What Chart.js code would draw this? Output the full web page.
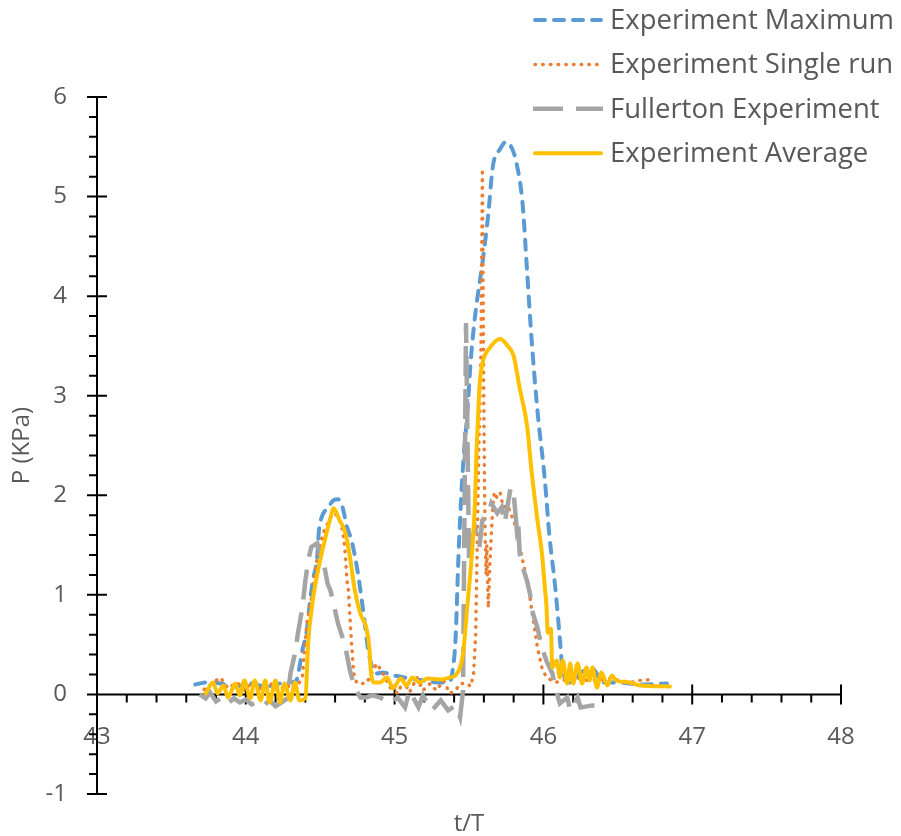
<!DOCTYPE html>
<html>
<head>
<meta charset="utf-8">
<script src="https://cdn.jsdelivr.net/npm/chart.js@4.4.1/dist/chart.umd.min.js"></script>
<style>
  html, body { margin: 0; padding: 0; background: #fff; }
</style>
</head>
<body>
<canvas id="grafico" width="901" height="836"></canvas>
<script>
// Datos (t/T, P en KPa)
const maxT = [43.66, 43.74, 43.83, 43.93, 44.03, 44.13, 44.23, 44.30, 44.34, 44.36, 44.38, 44.41, 44.43, 44.45, 44.48, 44.49, 44.51, 44.55, 44.59, 44.62, 44.65, 44.68, 44.71, 44.75, 44.78, 44.80, 44.82, 44.85, 44.88, 44.92, 45.00, 45.10, 45.20, 45.30, 45.37, 45.39, 45.41, 45.43, 45.46, 45.49, 45.51, 45.54, 45.59, 45.63, 45.66, 45.71, 45.75, 45.79, 45.82, 45.86, 45.89, 45.92, 45.96, 46.01, 46.04, 46.08, 46.11, 46.13, 46.18, 46.25, 46.33, 46.40, 46.51, 46.65, 46.83];
const maxP = [0.10, 0.12, 0.11, 0.08, 0.11, 0.08, 0.11, 0.12, 0.14, 0.27, 0.44, 0.64, 0.91, 1.14, 1.38, 1.62, 1.78, 1.87, 1.95, 1.96, 1.88, 1.68, 1.55, 1.25, 0.94, 0.71, 0.47, 0.27, 0.21, 0.22, 0.19, 0.16, 0.14, 0.12, 0.13, 0.24, 0.57, 1.42, 2.30, 2.85, 3.32, 3.79, 4.33, 4.83, 5.30, 5.48, 5.55, 5.48, 5.33, 4.93, 4.26, 3.58, 2.85, 2.15, 1.60, 1.07, 0.57, 0.24, 0.12, 0.22, 0.26, 0.12, 0.12, 0.10, 0.11];

const singleT = [43.72, 43.77, 43.83, 43.88, 43.94, 43.99, 44.05, 44.10, 44.16, 44.22, 44.27, 44.32, 44.36, 44.38, 44.39, 44.41, 44.45, 44.48, 44.52, 44.57, 44.60, 44.64, 44.66, 44.67, 44.68, 44.69, 44.70, 44.71, 44.72, 44.73, 44.75, 44.81, 44.88, 44.92, 44.97, 45.02, 45.06, 45.10, 45.15, 45.19, 45.24, 45.28, 45.33, 45.37, 45.41, 45.44, 45.49, 45.51, 45.53, 45.545, 45.555, 45.565, 45.58, 45.59, 45.595, 45.60, 45.605, 45.61, 45.615, 45.62, 45.625, 45.63, 45.64, 45.66, 45.67, 45.69, 45.71, 45.73, 45.76, 45.81, 45.86, 45.90, 45.92, 45.94, 45.96, 45.99, 46.02, 46.08, 46.20, 46.30, 46.45, 46.58, 46.65, 46.73];
const singleP = [0.05, 0.11, 0.17, 0.06, 0.12, 0.04, 0.13, 0.05, 0.12, 0.03, 0.10, 0.05, 0.12, 0.17, 0.37, 0.71, 1.04, 1.38, 1.62, 1.78, 1.82, 1.72, 1.55, 1.38, 1.14, 1.04, 0.77, 0.54, 0.31, 0.16, 0.11, 0.11, 0.31, 0.22, 0.07, 0.01, 0.14, 0.02, 0.17, 0.04, 0.11, 0.04, 0.14, 0.01, 0.04, 0.11, 0.11, 0.08, 0.19, 0.60, 1.50, 2.40, 3.40, 5.28, 4.00, 2.80, 2.00, 1.50, 1.20, 1.50, 1.10, 0.87, 1.30, 1.90, 2.03, 1.97, 2.02, 1.88, 1.90, 1.70, 1.35, 1.08, 0.87, 0.67, 0.47, 0.27, 0.17, 0.12, 0.17, 0.14, 0.16, 0.12, 0.14, 0.15];

const fullT = [43.69, 43.73, 43.76, 43.80, 43.84, 43.88, 43.92, 43.96, 44.00, 44.04, 44.08, 44.12, 44.16, 44.20, 44.24, 44.28, 44.30, 44.33, 44.35, 44.38, 44.40, 44.42, 44.44, 44.48, 44.50, 44.52, 44.55, 44.57, 44.59, 44.62, 44.65, 44.67, 44.70, 44.73, 44.77, 44.81, 44.85, 44.90, 44.97, 45.02, 45.07, 45.10, 45.16, 45.19, 45.25, 45.31, 45.36, 45.41, 45.44, 45.46, 45.48, 45.50, 45.51, 45.54, 45.57, 45.59, 45.63, 45.65, 45.69, 45.72, 45.74, 45.78, 45.80, 45.82, 45.83, 45.84, 45.86, 45.89, 45.91, 45.93, 45.96, 45.99, 46.02, 46.06, 46.08, 46.11, 46.16, 46.18, 46.23, 46.25, 46.33, 46.40];
const fullP = [0.00, -0.04, 0.02, -0.07, -0.03, -0.09, -0.04, -0.08, -0.05, -0.10, -0.07, -0.11, -0.06, -0.12, -0.08, -0.04, 0.21, 0.41, 0.61, 0.87, 1.14, 1.35, 1.48, 1.52, 1.40, 1.35, 1.11, 1.04, 0.91, 0.71, 0.57, 0.47, 0.24, 0.07, -0.03, -0.03, -0.01, -0.03, -0.09, -0.03, -0.13, 0.04, -0.13, -0.01, -0.16, -0.06, -0.16, -0.11, -0.23, 0.04, 3.73, 1.35, 1.48, 1.68, 1.48, 1.75, 1.82, 1.92, 1.82, 1.88, 1.72, 2.08, 2.02, 1.68, 1.75, 1.42, 1.28, 1.14, 1.01, 0.81, 0.67, 0.47, 0.34, 0.21, 0.07, -0.09, -0.03, -0.16, -0.03, -0.13, -0.11, -0.11];

const avgT = [43.73, 43.78, 43.81, 43.85, 43.88, 43.93, 43.96, 43.99, 44.03, 44.06, 44.10, 44.13, 44.16, 44.20, 44.23, 44.26, 44.30, 44.33, 44.36, 44.40, 44.42, 44.45, 44.49, 44.52, 44.57, 44.59, 44.63, 44.67, 44.70, 44.73, 44.77, 44.81, 44.83, 44.84, 44.86, 44.90, 44.95, 44.99, 45.04, 45.08, 45.12, 45.17, 45.22, 45.31, 45.37, 45.42, 45.46, 45.49, 45.52, 45.54, 45.55, 45.56, 45.57, 45.59, 45.64, 45.71, 45.76, 45.80, 45.84, 45.89, 45.92, 45.96, 45.99, 46.01, 46.02, 46.03, 46.05, 46.06, 46.09, 46.11, 46.13, 46.16, 46.18, 46.20, 46.23, 46.26, 46.29, 46.31, 46.33, 46.36, 46.39, 46.43, 46.46, 46.49, 46.58, 46.65, 46.85];
const avgP = [0.01, 0.12, 0.01, 0.09, -0.03, 0.11, -0.01, 0.14, -0.04, 0.14, -0.06, 0.14, -0.08, 0.14, -0.08, 0.11, -0.06, 0.12, -0.06, -0.04, 0.54, 0.94, 1.28, 1.48, 1.78, 1.87, 1.75, 1.62, 1.38, 1.07, 0.81, 0.67, 0.47, 0.24, 0.12, 0.12, 0.17, 0.06, 0.16, 0.09, 0.17, 0.12, 0.16, 0.15, 0.17, 0.21, 0.41, 0.91, 1.42, 1.92, 2.42, 2.75, 3.08, 3.32, 3.48, 3.57, 3.50, 3.40, 3.08, 2.70, 2.25, 1.75, 1.42, 1.07, 0.90, 0.62, 0.66, 0.27, 0.34, 0.17, 0.34, 0.11, 0.31, 0.11, 0.31, 0.11, 0.27, 0.14, 0.27, 0.07, 0.22, 0.09, 0.19, 0.14, 0.12, 0.09, 0.08];

const xTicks = [43, 44, 45, 46, 47, 48];
const yTicks = [-1, 0, 1, 2, 3, 4, 5, 6];

const fuente = "'Open Sans', sans-serif";
const gris = '#595959';

const pares = (xs, ys) => xs.map((x, i) => ({ x: x, y: ys[i] }));

// Ejes con marcas mayores y menores (cada 0.2)
const ejes = {
    id: 'ejes',
    beforeDatasetsDraw(chart) {
        const c = chart.ctx;
        const sx = chart.scales.x, sy = chart.scales.y;
        const x0 = sx.getPixelForValue(xTicks[0]);
        const y0 = sy.getPixelForValue(0);
        c.save();
        c.strokeStyle = '#000';
        c.lineWidth = 2;
        c.beginPath();
        c.moveTo(sx.getPixelForValue(sx.min), y0);
        c.lineTo(sx.getPixelForValue(sx.max), y0);
        c.moveTo(x0, sy.getPixelForValue(sy.max));
        c.lineTo(x0, sy.getPixelForValue(sy.min));
        for (let k = 0; k <= (sx.max - sx.min) * 5; k++) {
            const px = sx.getPixelForValue(sx.min + k * 0.2);
            const mayor = k % 5 === 0;
            c.moveTo(px, mayor ? y0 - 10 : y0);
            c.lineTo(px, y0 + (mayor ? 10 : 8));
        }
        for (let k = 0; k <= (sy.max - sy.min) * 5; k++) {
            const py = sy.getPixelForValue(sy.min + k * 0.2);
            const mayor = k % 5 === 0;
            c.moveTo(x0 - (mayor ? 10 : 8), py);
            c.lineTo(mayor ? x0 + 10 : x0, py);
        }
        c.stroke();
        c.restore();
    }
};

// Leyenda en la esquina superior derecha
const leyenda = {
    id: 'leyenda',
    afterDraw(chart) {
        const c = chart.ctx;
        chart.data.datasets.forEach((ds, i) => {
            const y = 20 + i * 44.4;
            c.save();
            c.strokeStyle = ds.borderColor;
            c.lineWidth = ds.borderWidth;
            c.lineCap = ds.borderCapStyle || 'butt';
            c.setLineDash(ds.borderDash || []);
            c.beginPath();
            c.moveTo(ds.borderCapStyle === 'round' ? 535 : 533, y);
            c.lineTo(ds.borderCapStyle === 'round' ? 601 : 603, y);
            c.stroke();
            c.setLineDash([]);
            c.fillStyle = gris;
            c.font = '27.5px ' + fuente;
            c.textBaseline = 'middle';
            c.fillText(ds.label, 610, y + 1);
            c.restore();
        });
    }
};

const ctx = document.getElementById('grafico').getContext('2d');

new Chart(ctx, {
    type: 'scatter',
    data: {
        datasets: [
            { label: 'Experiment Maximum', data: pares(maxT, maxP), showLine: true, borderColor: '#5B9BD5', borderWidth: 4, borderDash: [10, 9], borderCapStyle: 'round', pointRadius: 0, cubicInterpolationMode: 'monotone', order: 4 },
            { label: 'Experiment Single run', data: pares(singleT, singleP), showLine: true, borderColor: '#ED7D31', borderWidth: 3.5, borderDash: [0.5, 7.2], borderCapStyle: 'round', pointRadius: 0, order: 3 },
            { label: 'Fullerton Experiment', data: pares(fullT, fullP), showLine: true, borderColor: '#A5A5A5', borderWidth: 4.5, borderDash: [30, 13], borderCapStyle: 'butt', pointRadius: 0, order: 2 },
            { label: 'Experiment Average', data: pares(avgT, avgP), showLine: true, borderColor: '#FFC000', borderWidth: 4, borderCapStyle: 'round', pointRadius: 0, cubicInterpolationMode: 'monotone', order: 1 }
        ]
    },
    options: {
        responsive: false,
        animation: false,
        layout: { padding: { top: 97, right: 60, bottom: 0, left: 0 } },
        plugins: { legend: { display: false }, tooltip: { enabled: false } },
        scales: {
            x: {
                type: 'linear', min: 43, max: 48, position: { y: 0 },
                afterBuildTicks: s => { s.ticks = xTicks.map(v => ({ value: v })); },
                afterFit: s => { s.height = 0; },
                grid: { display: false, drawTicks: false },
                border: { display: false },
                ticks: { font: { family: fuente, size: 24 }, color: gris, padding: 28, maxRotation: 0, autoSkip: false }
            },
            xt: {
                type: 'linear', position: 'bottom',
                afterFit: s => { s.height = 42; },
                grid: { display: false, drawTicks: false },
                border: { display: false },
                ticks: { display: false },
                title: { display: true, text: 't/T', color: gris, font: { family: fuente, size: 24, lineHeight: 1 }, padding: { top: 0, bottom: 0 } }
            },
            y: {
                type: 'linear', min: -1, max: 6, position: 'left',
                afterBuildTicks: s => { s.ticks = yTicks.map(v => ({ value: v })); },
                afterFit: s => { s.width = 97; s.paddingTop = 0; s.paddingBottom = 0; },
                grid: { display: false, drawTicks: false },
                border: { display: false },
                ticks: { font: { family: fuente, size: 24 }, color: gris, padding: 30, autoSkip: false },
                title: { display: true, text: 'P (KPa)', color: gris, font: { family: fuente, size: 24 }, padding: { top: 8, bottom: 0 } }
            }
        }
    },
    plugins: [ejes, leyenda]
});
</script>
</body>
</html>
